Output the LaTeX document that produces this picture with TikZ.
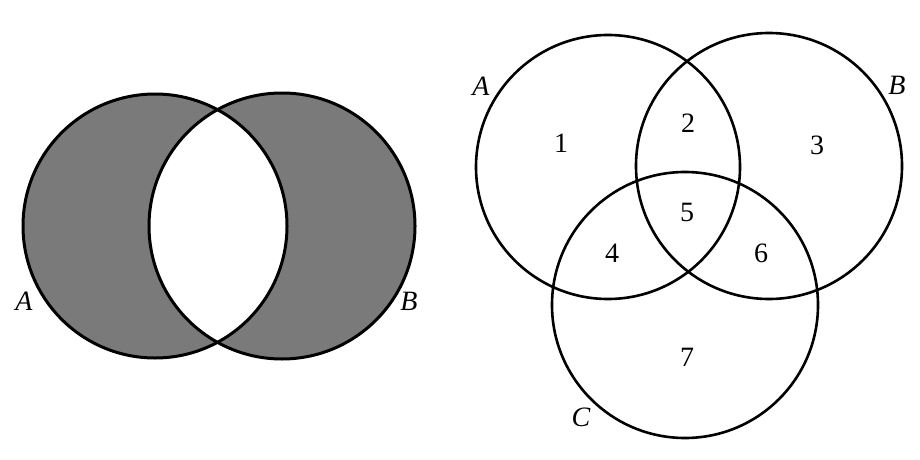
\documentclass[tikz,border=0pt]{standalone}
\usepackage{fontspec}
\setmainfont{Liberation Serif}
\begin{document}
\begin{tikzpicture}[x=1pt,y=-1pt,
  ring/.style={draw=black,line width=2.6pt},
  ringb/.style={draw=black,line width=3pt},
  lbl/.style={font=\fontsize{28}{30}\selectfont\itshape,inner sep=0pt},
  num/.style={font=\fontsize{28}{30}\selectfont,inner sep=0pt}]
\useasboundingbox[fill=white] (0,0) rectangle (920,460);
% left diagram
\coordinate (LA) at (155,226);
\coordinate (LB) at (282,226);
\fill[black!52] (LA) circle[radius=132pt];
\fill[black!52] (LB) circle[radius=133pt];
\begin{scope}
  \clip (LA) circle[radius=132pt];
  \fill[white] (LB) circle[radius=133pt];
\end{scope}
\draw[ringb] (LA) circle[radius=132pt];
\draw[ringb] (LB) circle[radius=133pt];
\node[lbl] (lA) at (24,301) {A};
\node[lbl] (lB) at (409,301) {B};
% right diagram
\coordinate (RA) at (608,167);
\coordinate (RB) at (769,166);
\coordinate (RC) at (685,305);
\draw[ring] (RA) circle[radius=132pt];
\draw[ring] (RB) circle[radius=133pt];
\draw[ring] (RC) circle[radius=133pt];
\node[lbl] (rA) at (481,86) {A};
\node[lbl] (rB) at (897,85) {B};
\node[lbl] (rC) at (581,417) {C};
\node[num] (n1) at (561,143) {1};
\node[num] (n2) at (688,123) {2};
\node[num] (n3) at (817,145) {3};
\node[num] (n5) at (687,212) {5};
\node[num] (n4) at (612,253) {4};
\node[num] (n6) at (761,253) {6};
\node[num] (n7) at (687,357) {7};
\end{tikzpicture}
\end{document}
